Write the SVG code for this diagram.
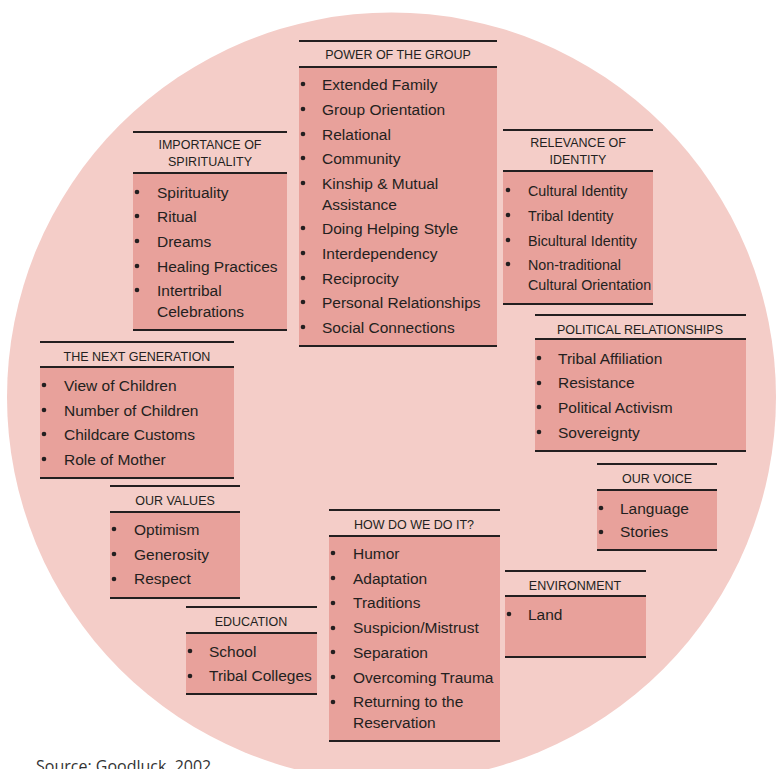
<svg xmlns="http://www.w3.org/2000/svg" width="781" height="769" viewBox="0 0 781 769">
<style>
.bg{fill:#ffffff}
.circ{fill:#f4cdc8}
.body{fill:#e8a19b}
.rule{stroke:#231f20;stroke-width:2;fill:none}
.hd{font-family:"Liberation Sans",Arial,sans-serif;font-size:12.5px;fill:#231f20;text-anchor:middle}
.it{font-family:"Liberation Sans",Arial,sans-serif;font-size:15.5px;fill:#231f20}
.sm{font-size:14.3px}
.dot{fill:#231f20}
.src{font-family:"Open Sans","Liberation Sans",sans-serif;font-size:16px;fill:#333333}
</style>
<defs>
<circle id="b" r="2.3" class="dot"/>
</defs>
<rect class="bg" x="0" y="0" width="781" height="769"/>
<circle class="circ" cx="391.5" cy="397" r="384.5"/>

<g id="power">
<rect class="body" x="299" y="67" width="198" height="279"/>
<line class="rule" x1="299" y1="41" x2="497" y2="41"/>
<line class="rule" x1="299" y1="67" x2="497" y2="67"/>
<line class="rule" x1="299" y1="346" x2="497" y2="346"/>
<text class="hd" x="398" y="59">POWER OF THE GROUP</text>
<use href="#b" x="303" y="84"/><text class="it" x="322" y="90">Extended Family</text>
<use href="#b" x="303" y="109"/><text class="it" x="322" y="115">Group Orientation</text>
<use href="#b" x="303" y="134"/><text class="it" x="322" y="140">Relational</text>
<use href="#b" x="303" y="158"/><text class="it" x="322" y="164">Community</text>
<use href="#b" x="303" y="183"/><text class="it" x="322" y="189">Kinship &amp; Mutual</text>
<text class="it" x="322" y="210">Assistance</text>
<use href="#b" x="303" y="228"/><text class="it" x="322" y="234">Doing Helping Style</text>
<use href="#b" x="303" y="253"/><text class="it" x="322" y="259">Interdependency</text>
<use href="#b" x="303" y="278"/><text class="it" x="322" y="284">Reciprocity</text>
<use href="#b" x="303" y="302"/><text class="it" x="322" y="308">Personal Relationships</text>
<use href="#b" x="303" y="327"/><text class="it" x="322" y="333">Social Connections</text>
</g>

<g id="spirituality">
<rect class="body" x="133" y="173" width="154" height="157"/>
<line class="rule" x1="133" y1="132" x2="287" y2="132"/>
<line class="rule" x1="133" y1="173" x2="287" y2="173"/>
<line class="rule" x1="133" y1="330" x2="287" y2="330"/>
<text class="hd" x="210" y="149">IMPORTANCE OF</text>
<text class="hd" x="210" y="166">SPIRITUALITY</text>
<use href="#b" x="137" y="192"/><text class="it" x="157" y="198">Spirituality</text>
<use href="#b" x="137" y="216"/><text class="it" x="157" y="222">Ritual</text>
<use href="#b" x="137" y="241"/><text class="it" x="157" y="247">Dreams</text>
<use href="#b" x="137" y="266"/><text class="it" x="157" y="272">Healing Practices</text>
<use href="#b" x="137" y="290"/><text class="it" x="157" y="296">Intertribal</text>
<text class="it" x="157" y="317">Celebrations</text>
</g>

<g id="identity">
<rect class="body" x="503" y="171" width="150" height="133"/>
<line class="rule" x1="503" y1="130" x2="653" y2="130"/>
<line class="rule" x1="503" y1="171" x2="653" y2="171"/>
<line class="rule" x1="503" y1="304" x2="653" y2="304"/>
<text class="hd" x="578" y="147">RELEVANCE OF</text>
<text class="hd" x="578" y="164">IDENTITY</text>
<use href="#b" x="508" y="190"/><text class="it sm" x="528" y="196">Cultural Identity</text>
<use href="#b" x="508" y="215"/><text class="it sm" x="528" y="221">Tribal Identity</text>
<use href="#b" x="508" y="240"/><text class="it sm" x="528" y="246">Bicultural Identity</text>
<use href="#b" x="508" y="264"/><text class="it sm" x="528" y="270">Non-traditional</text>
<text class="it sm" x="528" y="290">Cultural Orientation</text>
</g>

<g id="nextgen">
<rect class="body" x="40" y="367" width="194" height="111"/>
<line class="rule" x1="40" y1="342" x2="234" y2="342"/>
<line class="rule" x1="40" y1="367" x2="234" y2="367"/>
<line class="rule" x1="40" y1="478" x2="234" y2="478"/>
<text class="hd" x="137" y="361">THE NEXT GENERATION</text>
<use href="#b" x="44" y="385"/><text class="it" x="64" y="391">View of Children</text>
<use href="#b" x="44" y="410"/><text class="it" x="64" y="416">Number of Children</text>
<use href="#b" x="44" y="434"/><text class="it" x="64" y="440">Childcare Customs</text>
<use href="#b" x="44" y="459"/><text class="it" x="64" y="465">Role of Mother</text>
</g>

<g id="political">
<rect class="body" x="535" y="339" width="211" height="112"/>
<line class="rule" x1="535" y1="315" x2="746" y2="315"/>
<line class="rule" x1="535" y1="339" x2="746" y2="339"/>
<line class="rule" x1="535" y1="451" x2="746" y2="451"/>
<text class="hd" x="640" y="334">POLITICAL RELATIONSHIPS</text>
<use href="#b" x="539" y="358"/><text class="it" x="558" y="364">Tribal Affiliation</text>
<use href="#b" x="539" y="383"/><text class="it" x="558" y="388">Resistance</text>
<use href="#b" x="539" y="407"/><text class="it" x="558" y="413">Political Activism</text>
<use href="#b" x="539" y="432"/><text class="it" x="558" y="438">Sovereignty</text>
</g>

<g id="voice">
<rect class="body" x="597" y="490" width="120" height="60"/>
<line class="rule" x1="597" y1="464" x2="717" y2="464"/>
<line class="rule" x1="597" y1="490" x2="717" y2="490"/>
<line class="rule" x1="597" y1="550" x2="717" y2="550"/>
<text class="hd" x="657" y="483">OUR VOICE</text>
<use href="#b" x="601" y="508"/><text class="it" x="620" y="514">Language</text>
<use href="#b" x="601" y="532"/><text class="it" x="620" y="537">Stories</text>
</g>

<g id="values">
<rect class="body" x="110" y="512" width="130" height="86"/>
<line class="rule" x1="110" y1="486" x2="240" y2="486"/>
<line class="rule" x1="110" y1="512" x2="240" y2="512"/>
<line class="rule" x1="110" y1="598" x2="240" y2="598"/>
<text class="hd" x="175" y="505">OUR VALUES</text>
<use href="#b" x="114" y="529"/><text class="it" x="134" y="535">Optimism</text>
<use href="#b" x="114" y="554"/><text class="it" x="134" y="560">Generosity</text>
<use href="#b" x="114" y="579"/><text class="it" x="134" y="584">Respect</text>
</g>

<g id="how">
<rect class="body" x="329" y="536" width="171" height="205"/>
<line class="rule" x1="329" y1="510" x2="500" y2="510"/>
<line class="rule" x1="329" y1="536" x2="500" y2="536"/>
<line class="rule" x1="329" y1="741" x2="500" y2="741"/>
<text class="hd" x="414" y="529">HOW DO WE DO IT?</text>
<use href="#b" x="333" y="553"/><text class="it" x="353" y="559">Humor</text>
<use href="#b" x="333" y="578"/><text class="it" x="353" y="584">Adaptation</text>
<use href="#b" x="333" y="603"/><text class="it" x="353" y="608">Traditions</text>
<use href="#b" x="333" y="628"/><text class="it" x="353" y="633">Suspicion/Mistrust</text>
<use href="#b" x="333" y="652"/><text class="it" x="353" y="658">Separation</text>
<use href="#b" x="333" y="677"/><text class="it" x="353" y="683">Overcoming Trauma</text>
<use href="#b" x="333" y="702"/><text class="it" x="353" y="707">Returning to the</text>
<text class="it" x="353" y="728">Reservation</text>
</g>

<g id="education">
<rect class="body" x="186" y="633" width="131" height="61"/>
<line class="rule" x1="186" y1="607" x2="317" y2="607"/>
<line class="rule" x1="186" y1="633" x2="317" y2="633"/>
<line class="rule" x1="186" y1="694" x2="317" y2="694"/>
<text class="hd" x="251" y="626">EDUCATION</text>
<use href="#b" x="190" y="651"/><text class="it" x="209" y="657">School</text>
<use href="#b" x="190" y="676"/><text class="it" x="209" y="681">Tribal Colleges</text>
</g>

<g id="environment">
<rect class="body" x="505" y="596" width="141" height="61"/>
<line class="rule" x1="505" y1="571" x2="646" y2="571"/>
<line class="rule" x1="505" y1="596" x2="646" y2="596"/>
<line class="rule" x1="505" y1="657" x2="646" y2="657"/>
<text class="hd" x="575" y="590">ENVIRONMENT</text>
<use href="#b" x="509" y="614"/><text class="it" x="528" y="620">Land</text>
</g>

<g id="connectors"></g>

<text class="src" x="36" y="772">Source: Goodluck, 2002</text>
</svg>
